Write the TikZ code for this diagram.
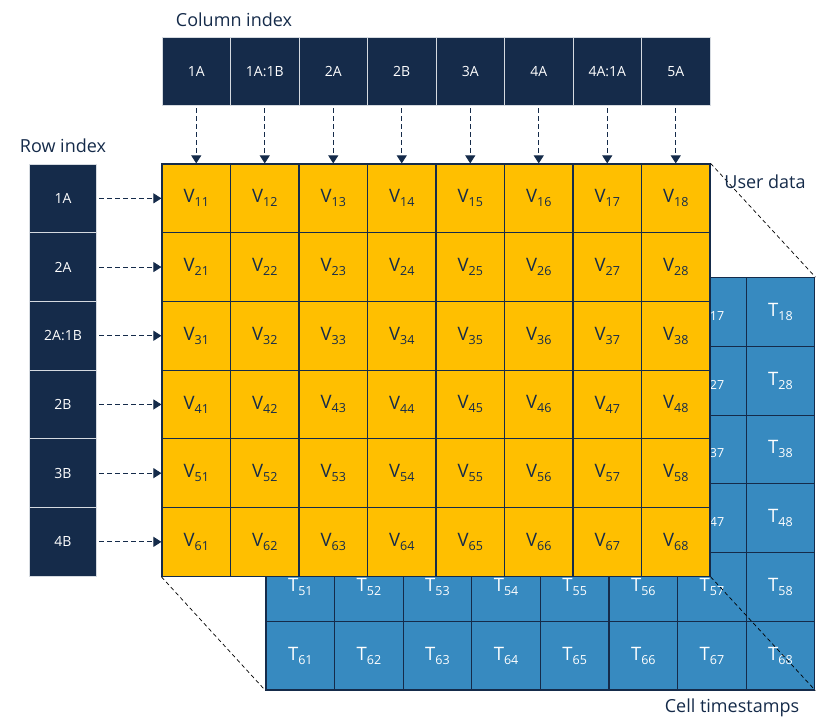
\documentclass[tikz,border=0pt]{standalone}
\usepackage{fontspec}
\setmainfont{Open Sans}
\usetikzlibrary{arrows.meta}
\definecolor{navy}{HTML}{152B4A}
\definecolor{gold}{HTML}{FFBF00}
\definecolor{steel}{HTML}{378AC0}
\definecolor{edgegray}{HTML}{D5DAE0}
\tikzset{
  idxbox/.style={draw=edgegray, line width=0.8pt, fill=navy, text=white, minimum width=68.5pt, minimum height=68.7pt, inner sep=0pt, font=\fontsize{14}{14}\selectfont},
  vcell/.style={draw=navy, line width=1.2pt, fill=gold, text=navy, minimum width=68.5pt, minimum height=68.7pt, inner sep=0pt},
  tcell/.style={draw=navy, line width=1.2pt, fill=steel, text=white, minimum width=68.6pt, minimum height=68.7pt, inner sep=0pt},
  dasharrow/.style={draw=navy, line width=0.9pt, dash pattern=on 4.5pt off 3.5pt, -{Triangle[width=10pt,length=8pt]}, shorten <=2pt},
  zoomline/.style={draw=black, line width=0.7pt, dash pattern=on 4pt off 3pt},
  caption/.style={text=navy, font=\fontsize{18}{18}\selectfont, inner sep=0pt}
}
\newcommand{\cellv}[2]{{\fontsize{18.5}{18.5}\selectfont #1}\raisebox{-4pt}{\fontsize{12.5}{12.5}\selectfont #2}}
\begin{document}
\begin{tikzpicture}[x=1pt,y=-1pt]
\useasboundingbox (0,0) rectangle (836,725);
% blue timestamp grid (behind)
\foreach \i in {1,...,6}{
  \foreach \j in {1,...,8}{
    \node[tcell] (t\i\j) at ({266+68.6*(\j-0.5)},{277.7+68.7*(\i-0.5)}) {\cellv{T}{\i\j}};
  }
}
% yellow user data grid
\foreach \i in {1,...,6}{
  \foreach \j in {1,...,8}{
    \node[vcell] (v\i\j) at ({162+68.5*(\j-0.5)},{164+68.7*(\i-0.5)}) {\cellv{V}{\i\j}};
  }
}
% zoom lines
\draw[zoomline] (v18.north east) -- (t18.north east);
\draw[zoomline] (v61.south west) -- (t61.south west);
\draw[zoomline] (v68.south east) -- (t68.south east);
% column index boxes
\foreach \j/\lab in {1/1A,2/1A:1B,3/2A,4/2B,5/3A,6/4A,7/4A:1A,8/5A}{
  \node[idxbox] (c\j) at ({162+68.5*(\j-0.5)},71.3) {\lab};
  \draw[dasharrow] (c\j.south) -- (v1\j.north);
}
% row index boxes
\foreach \i/\lab in {1/1A,2/2A,3/2A:1B,4/2B,5/3B,6/4B}{
  \node[idxbox, minimum width=67.5pt] (r\i) at (63,{164+68.7*(\i-0.5)}) {\lab};
  \draw[dasharrow] (r\i.east) -- (v\i1.west);
}
% captions
\node[caption] (colcap) at (234,20) {Column index};
\node[caption] (rowcap) at (63,146) {Row index};
\node[caption] (usercap) at (765,182) {User data};
\node[caption] (tscap) at (732,708) {Cell timestamps};
\end{tikzpicture}
\end{document}
